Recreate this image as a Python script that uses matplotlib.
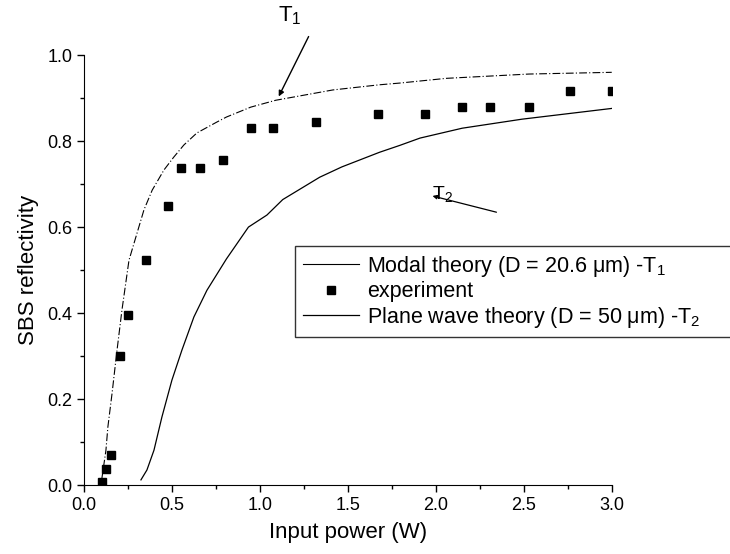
import matplotlib
matplotlib.use("Agg")
import matplotlib.pyplot as plt
from matplotlib.ticker import MultipleLocator

plt.rcParams["font.family"] = ["Liberation Sans", "DejaVu Sans"]
plt.rcParams["mathtext.fontset"] = "custom"
plt.rcParams["mathtext.rm"] = "Liberation Sans"

exp_p = [0.10, 0.125, 0.153, 0.205, 0.25, 0.35, 0.48, 0.55, 0.66, 0.79, 0.95,
         1.075, 1.32, 1.67, 1.94, 2.15, 2.31, 2.53, 2.76, 3.0]
exp_r = [0.007, 0.037, 0.07, 0.30, 0.395, 0.523, 0.649, 0.737, 0.737, 0.756, 0.83,
         0.83, 0.845, 0.863, 0.863, 0.88, 0.88, 0.88, 0.917, 0.917]

# modal theory T1
t1_p = [0.10, 0.125, 0.136, 0.16, 0.186, 0.216, 0.256, 0.341, 0.388, 0.455, 0.511,
        0.568, 0.642, 0.754, 0.81, 0.948, 1.09, 1.415, 1.68, 1.795, 2.06, 2.53, 3.0]
t1_r = [0.01, 0.081, 0.135, 0.214, 0.307, 0.407, 0.523, 0.64, 0.686, 0.733, 0.763,
        0.791, 0.819, 0.844, 0.856, 0.879, 0.895, 0.919, 0.931, 0.935, 0.946, 0.956, 0.96]

# plane wave theory T2
t2_p = [0.324, 0.358, 0.398, 0.443, 0.50, 0.557, 0.625, 0.699, 0.81, 0.935, 1.04,
        1.13, 1.34, 1.466, 1.68, 1.795, 1.91, 2.15, 2.49, 3.0]
t2_r = [0.012, 0.035, 0.081, 0.158, 0.244, 0.314, 0.391, 0.453, 0.526, 0.60, 0.628,
        0.664, 0.716, 0.74, 0.774, 0.79, 0.807, 0.83, 0.851, 0.876]

fig = plt.figure(figsize=(7.3, 5.54), dpi=100)
ax = fig.add_axes([0.115, 0.1245, 0.723, 0.776])

ax.plot(t1_p, t1_r, color="black", lw=0.8, dashes=(7, 2, 1, 2),
        label="Modal theory (D = 20.6 \u03bcm) -T$_\\mathregular{1}$")
ax.plot(exp_p, exp_r, "s", color="black", ms=6, label="experiment")
ax.plot(t2_p, t2_r, color="black", lw=0.9,
        label="Plane wave theory (D = 50 \u03bcm) -T$_\\mathregular{2}$")

ax.set_xlim(0, 3.0)
ax.set_ylim(0, 1.0)
ax.xaxis.set_major_locator(MultipleLocator(0.5))
ax.xaxis.set_minor_locator(MultipleLocator(0.25))
ax.yaxis.set_major_locator(MultipleLocator(0.2))
ax.yaxis.set_minor_locator(MultipleLocator(0.1))
ax.spines["top"].set_visible(False)
ax.spines["right"].set_visible(False)
ax.tick_params(which="major", direction="out", length=5, width=1, labelsize=13)
ax.tick_params(which="minor", direction="out", length=3, width=1)

ax.set_xlabel("Input power (W)", fontsize=16, labelpad=6)
ax.set_ylabel("SBS reflectivity", fontsize=16, labelpad=6)

# T1 / T2 markers
ax.annotate("", xy=(1.10, 0.898), xytext=(1.284, 1.049), annotation_clip=False,
            arrowprops=dict(arrowstyle="-|>", color="black", lw=1, mutation_scale=8))
ax.text(1.17, 1.065, "T$_\\mathregular{1}$", fontsize=16, ha="center", va="bottom")
ax.annotate("", xy=(1.966, 0.674), xytext=(2.36, 0.633),
            arrowprops=dict(arrowstyle="-|>", color="black", lw=0.9, mutation_scale=6))
ax.text(2.04, 0.652, "T$_\\mathregular{2}$", fontsize=14, ha="center", va="bottom")

# legend box runs past the right edge of the figure, as in the original
leg = ax.legend(loc="upper left", bbox_to_anchor=(0.4, 0.556 - 0.3, 0.9, 0.3),
                mode="expand", fontsize=15.5, frameon=True, fancybox=False,
                edgecolor="black", handlelength=2.6, borderaxespad=0,
                labelspacing=0.12, handletextpad=0.4, borderpad=0.35)
leg.get_frame().set_linewidth(1)
leg.get_lines()[0].set_linestyle("-")

fig.savefig("out.png", dpi=100)
